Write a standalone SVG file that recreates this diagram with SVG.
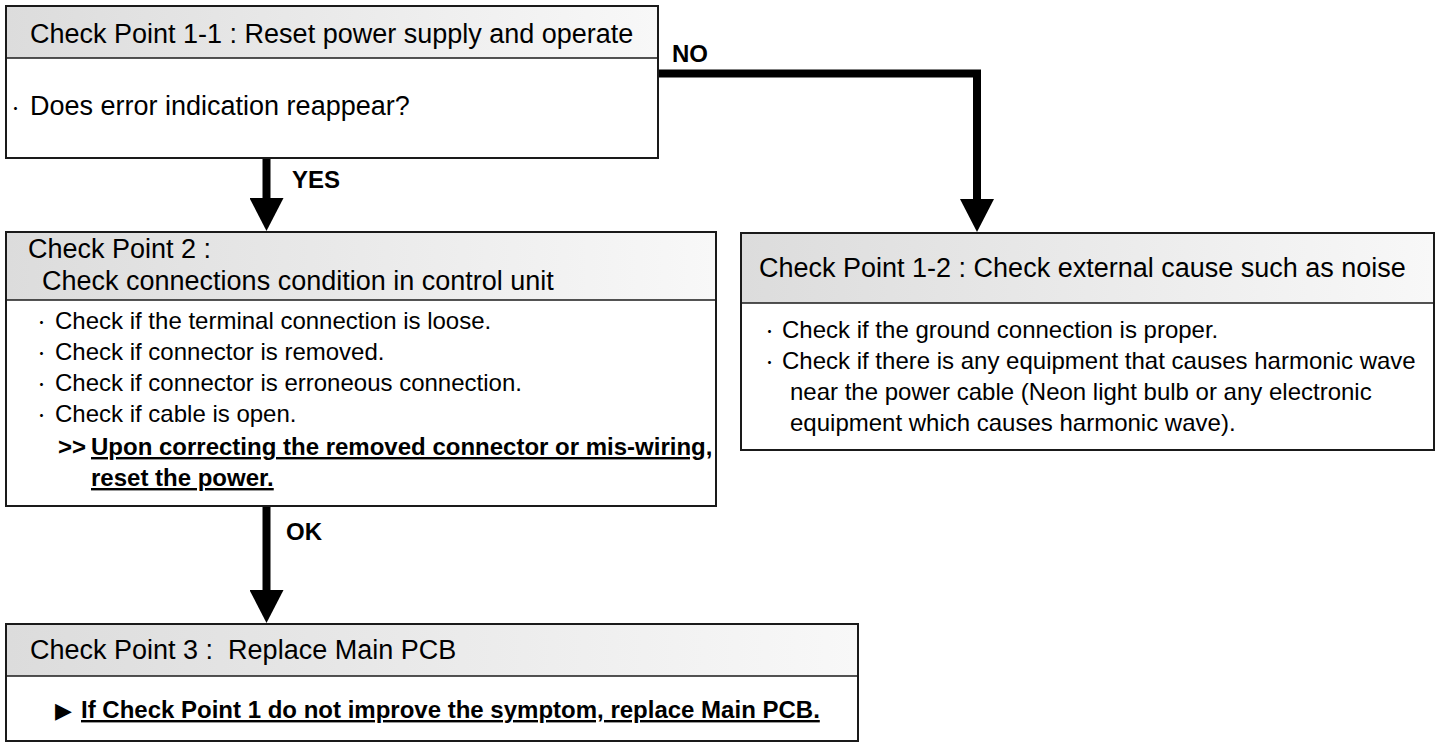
<svg xmlns="http://www.w3.org/2000/svg" width="1436" height="751" viewBox="0 0 1436 751">
<defs>
<linearGradient id="hg" x1="0" y1="0" x2="1" y2="0"><stop offset="0" stop-color="#dcdcdc"/><stop offset="1" stop-color="#f8f8f8"/></linearGradient>
<marker id="ah" markerUnits="userSpaceOnUse" markerWidth="34" markerHeight="34" viewBox="0 0 34 34" refX="0" refY="17" orient="auto"><path d="M0,0 L33,17 L0,34 Z" fill="#000"/></marker>
</defs>
<style>
.box{fill:#fff;stroke:#1a1a1a;stroke-width:2}
.hdr{fill:url(#hg)}
.div{stroke:#1a1a1a;stroke-width:1.5}
text{font-family:"Liberation Sans",Arial,sans-serif;fill:#000}
.h{font-size:27px}
.b{font-size:24px}
.bb{font-size:24px;font-weight:bold}
.u{text-decoration:underline}
.lbl{font-size:24px;font-weight:bold}
.bul{font-family:"Noto Sans CJK JP","Liberation Sans",sans-serif;font-size:18px}
.tri{font-family:"DejaVu Sans",sans-serif;font-size:22px}
.con{fill:none;stroke:#000;stroke-width:8;marker-end:url(#ah)}
</style>
<g id="connectors">
<path class="con" d="M658,73.5 H977 V199"/>
<path class="con" d="M266.5,158 V198"/>
<path class="con" d="M266.5,506 V590"/>
<text class="lbl" x="672" y="62">NO</text>
<text class="lbl" x="292" y="188">YES</text>
<text class="lbl" x="286" y="540">OK</text>
</g>
<g id="cp11">
<rect class="box" x="6" y="6" width="652" height="152"/>
<rect class="hdr" x="7" y="7" width="650" height="51"/>
<line class="div" x1="6" y1="58" x2="658" y2="58"/>
<text class="h" x="30" y="43">Check Point 1-1 : Reset power supply and operate</text>
<text class="h" y="115"><tspan class="bul" x="11">･</tspan><tspan x="30">Does error indication reappear?</tspan></text>
</g>
<g id="cp2">
<rect class="box" x="6" y="232" width="710" height="274"/>
<rect class="hdr" x="7" y="233" width="708" height="67"/>
<line class="div" x1="6" y1="300" x2="716" y2="300"/>
<text class="h" x="28" y="258">Check Point 2 :</text>
<text class="h" x="42" y="290">Check connections condition in control unit</text>
<text class="b" y="329"><tspan class="bul" x="37">･</tspan><tspan x="55">Check if the terminal connection is loose.</tspan></text>
<text class="b" y="360"><tspan class="bul" x="37">･</tspan><tspan x="55">Check if connector is removed.</tspan></text>
<text class="b" y="391"><tspan class="bul" x="37">･</tspan><tspan x="55">Check if connector is erroneous connection.</tspan></text>
<text class="b" y="422"><tspan class="bul" x="37">･</tspan><tspan x="55">Check if cable is open.</tspan></text>
<text class="bb" y="455"><tspan x="58">&gt;&gt;</tspan><tspan class="u" x="91">Upon correcting the removed connector or mis-wiring,</tspan></text>
<text class="bb u" x="91" y="486">reset the power.</text>
</g>
<g id="cp12">
<rect class="box" x="741" y="233" width="693" height="217"/>
<rect class="hdr" x="742" y="234" width="691" height="69"/>
<line class="div" x1="741" y1="303" x2="1434" y2="303"/>
<text class="h" x="759" y="277">Check Point 1-2 : Check external cause such as noise</text>
<text class="b" y="338"><tspan class="bul" x="765">･</tspan><tspan x="782">Check if the ground connection is proper.</tspan></text>
<text class="b" y="369"><tspan class="bul" x="765">･</tspan><tspan x="782">Check if there is any equipment that causes harmonic wave</tspan></text>
<text class="b" x="790" y="400">near the power cable (Neon light bulb or any electronic</text>
<text class="b" x="790" y="431">equipment which causes harmonic wave).</text>
</g>
<g id="cp3">
<rect class="box" x="6" y="624" width="852" height="117"/>
<rect class="hdr" x="7" y="625" width="850" height="51"/>
<line class="div" x1="6" y1="676" x2="858" y2="676"/>
<text class="h" x="30" y="659" xml:space="preserve">Check Point 3 :  Replace Main PCB</text>
<text class="tri" x="55" y="718">▶</text>
<text class="bb u" x="81" y="718">If Check Point 1 do not improve the symptom, replace Main PCB.</text>
</g>
</svg>
